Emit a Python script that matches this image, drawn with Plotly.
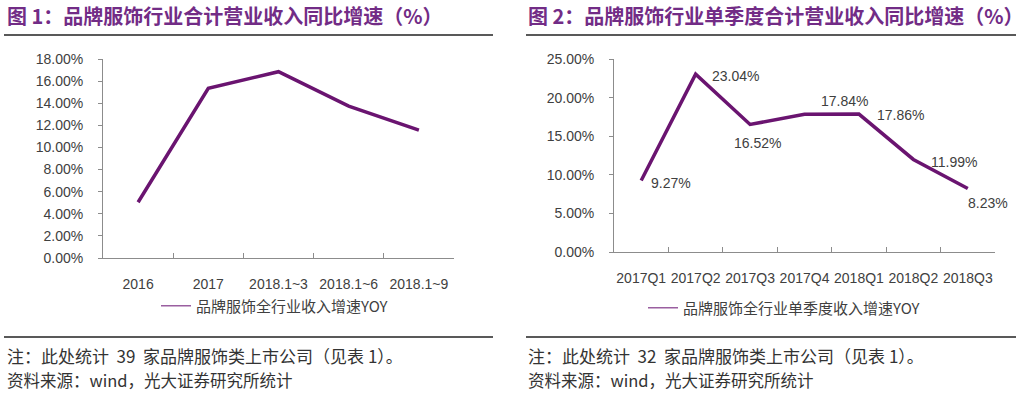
import plotly.graph_objects as go

# ---- data ----
cats1 = ["2016", "2017", "2018.1~3", "2018.1~6", "2018.1~9"]
vals1 = [5.04, 15.35, 16.85, 13.74, 11.57]
name1 = "品牌服饰全行业收入增速YOY"

cats2 = ["2017Q1", "2017Q2", "2017Q3", "2017Q4", "2018Q1", "2018Q2", "2018Q3"]
vals2 = [9.27, 23.04, 16.52, 17.84, 17.86, 11.99, 8.23]
name2 = "品牌服饰全行业单季度收入增速YOY"

title1 = "图 1：品牌服饰行业合计营业收入同比增速（%）"
title2 = "图 2：品牌服饰行业单季度合计营业收入同比增速（%）"
note1a = "注：此处统计&nbsp;&nbsp;39&nbsp;&nbsp;家品牌服饰类上市公司（见表&nbsp;1）。"
note2a = "注：此处统计&nbsp;&nbsp;32&nbsp;&nbsp;家品牌服饰类上市公司（见表&nbsp;1）。"
source = "资料来源：wind，光大证券研究所统计"

# ---- style ----
W, H = 1024, 395
LINE = "#6A1470"
LEG_LINE = "#9A5FA0"
TITLE_C = "#722C86"
TXT = "#404040"
AX = "#8C8C8C"
FONT = "Liberation Sans, Arial, Noto Sans CJK SC, sans-serif"
CJK = "Noto Sans CJK SC, sans-serif"

def px(x):
    return x / W

def py(y):
    return 1 - y / H

fig = go.Figure()

fig.add_trace(go.Scatter(x=cats1, y=vals1, mode="lines", line=dict(color=LINE, width=3.5),
                         showlegend=False, xaxis="x", yaxis="y", hoverinfo="skip"))
fig.add_trace(go.Scatter(x=cats2, y=vals2, mode="lines", line=dict(color=LINE, width=3.5),
                         showlegend=False, xaxis="x2", yaxis="y2", hoverinfo="skip"))
fig.add_trace(go.Scatter(x=[None], y=[None], mode="lines", name=name1,
                         line=dict(color=LEG_LINE, width=1.5), legend="legend",
                         xaxis="x", yaxis="y"))
fig.add_trace(go.Scatter(x=[None], y=[None], mode="lines", name=name2,
                         line=dict(color=LEG_LINE, width=1.5), legend="legend2",
                         xaxis="x2", yaxis="y2"))

common_x = dict(type="category", showline=True, linecolor=AX, linewidth=1,
                ticks="inside", ticklen=5, tickcolor=AX, tickson="boundaries",
                showgrid=False, zeroline=False, ticklabelstandoff=13, tickangle=0,
                automargin=False,
                tickfont=dict(family=FONT, size=14, color=TXT))
common_y = dict(showline=True, linecolor=AX, linewidth=1, ticks="outside", ticklen=4,
                tickcolor=AX, showgrid=False, zeroline=False, ticksuffix="%",
                tickformat=".2f", ticklabelstandoff=12, automargin=False,
                tickfont=dict(family=FONT, size=14, color=TXT))

fig.update_layout(
    width=W, height=H,
    margin=dict(l=0, r=0, t=0, b=0),
    paper_bgcolor="white", plot_bgcolor="white",
    xaxis=dict(domain=[px(103), px(454)], anchor="y", range=[-0.5, len(cats1) - 0.5], **common_x),
    yaxis=dict(domain=[py(258), py(59)], anchor="x", range=[0, 18], dtick=2, **common_y),
    xaxis2=dict(domain=[px(614), px(995)], anchor="y2", range=[-0.5, len(cats2) - 0.5], **common_x),
    yaxis2=dict(domain=[py(252), py(59)], anchor="x2", range=[0, 25], dtick=5, **common_y),
    legend=dict(x=px(156), y=py(306), xanchor="left", yanchor="middle",
                font=dict(family=CJK, size=15, color=TXT), bgcolor="rgba(0,0,0,0)"),
    legend2=dict(x=px(643), y=py(308), xanchor="left", yanchor="middle",
                 font=dict(family=CJK, size=15, color=TXT), bgcolor="rgba(0,0,0,0)"),
    showlegend=True,
)

annotations = []
annotations.append(dict(text="<b>" + title1 + "</b>", x=px(5), y=py(16), xref="paper", yref="paper",
                        xanchor="left", yanchor="middle", showarrow=False,
                        font=dict(family=CJK, size=20, color=TITLE_C)))
annotations.append(dict(text="<b>" + title2 + "</b>", x=px(526), y=py(16), xref="paper", yref="paper",
                        xanchor="left", yanchor="middle", showarrow=False,
                        font=dict(family=CJK, size=20, color=TITLE_C)))
for x0, note in ((5, note1a), (526, note2a)):
    annotations.append(dict(text=note, x=px(x0), y=py(355), xref="paper", yref="paper",
                            xanchor="left", yanchor="middle", showarrow=False,
                            font=dict(family=CJK, size=17, color="#333333")))
    annotations.append(dict(text=source, x=px(x0), y=py(380), xref="paper", yref="paper",
                            xanchor="left", yanchor="middle", showarrow=False,
                            font=dict(family=CJK, size=16.5, color="#333333")))

lab_shift = [(8, -3, "left"), (14, -2, "left"), (7, -19, "center"), (40, 13, "center"),
             (16, -1, "left"), (16, -3, "left"), (20, -15, "center")]
for c, v, (dx, dy, xa) in zip(cats2, vals2, lab_shift):
    annotations.append(dict(text=f"{v:.2f}%", x=c, y=v, xref="x2", yref="y2",
                            xanchor=xa, yanchor="middle", xshift=dx, yshift=dy,
                            showarrow=False, font=dict(family=FONT, size=14, color=TXT)))
fig.update_layout(annotations=annotations)

shapes = []
for x0, x1 in ((4, 493), (526, 1016)):
    shapes.append(dict(type="line", xref="paper", yref="paper", x0=px(x0), x1=px(x1),
                       y0=py(35), y1=py(35), line=dict(color="#222222", width=1.5)))
    shapes.append(dict(type="line", xref="paper", yref="paper", x0=px(x0), x1=px(x1),
                       y0=py(337), y1=py(337), line=dict(color="#222222", width=1.5)))
fig.update_layout(shapes=shapes)

# remove the default 8px page margin so the figure fills the window exactly
fig.write_html("out.html", config={"displayModeBar": False},
               post_script="document.body.style.margin='0px';")
